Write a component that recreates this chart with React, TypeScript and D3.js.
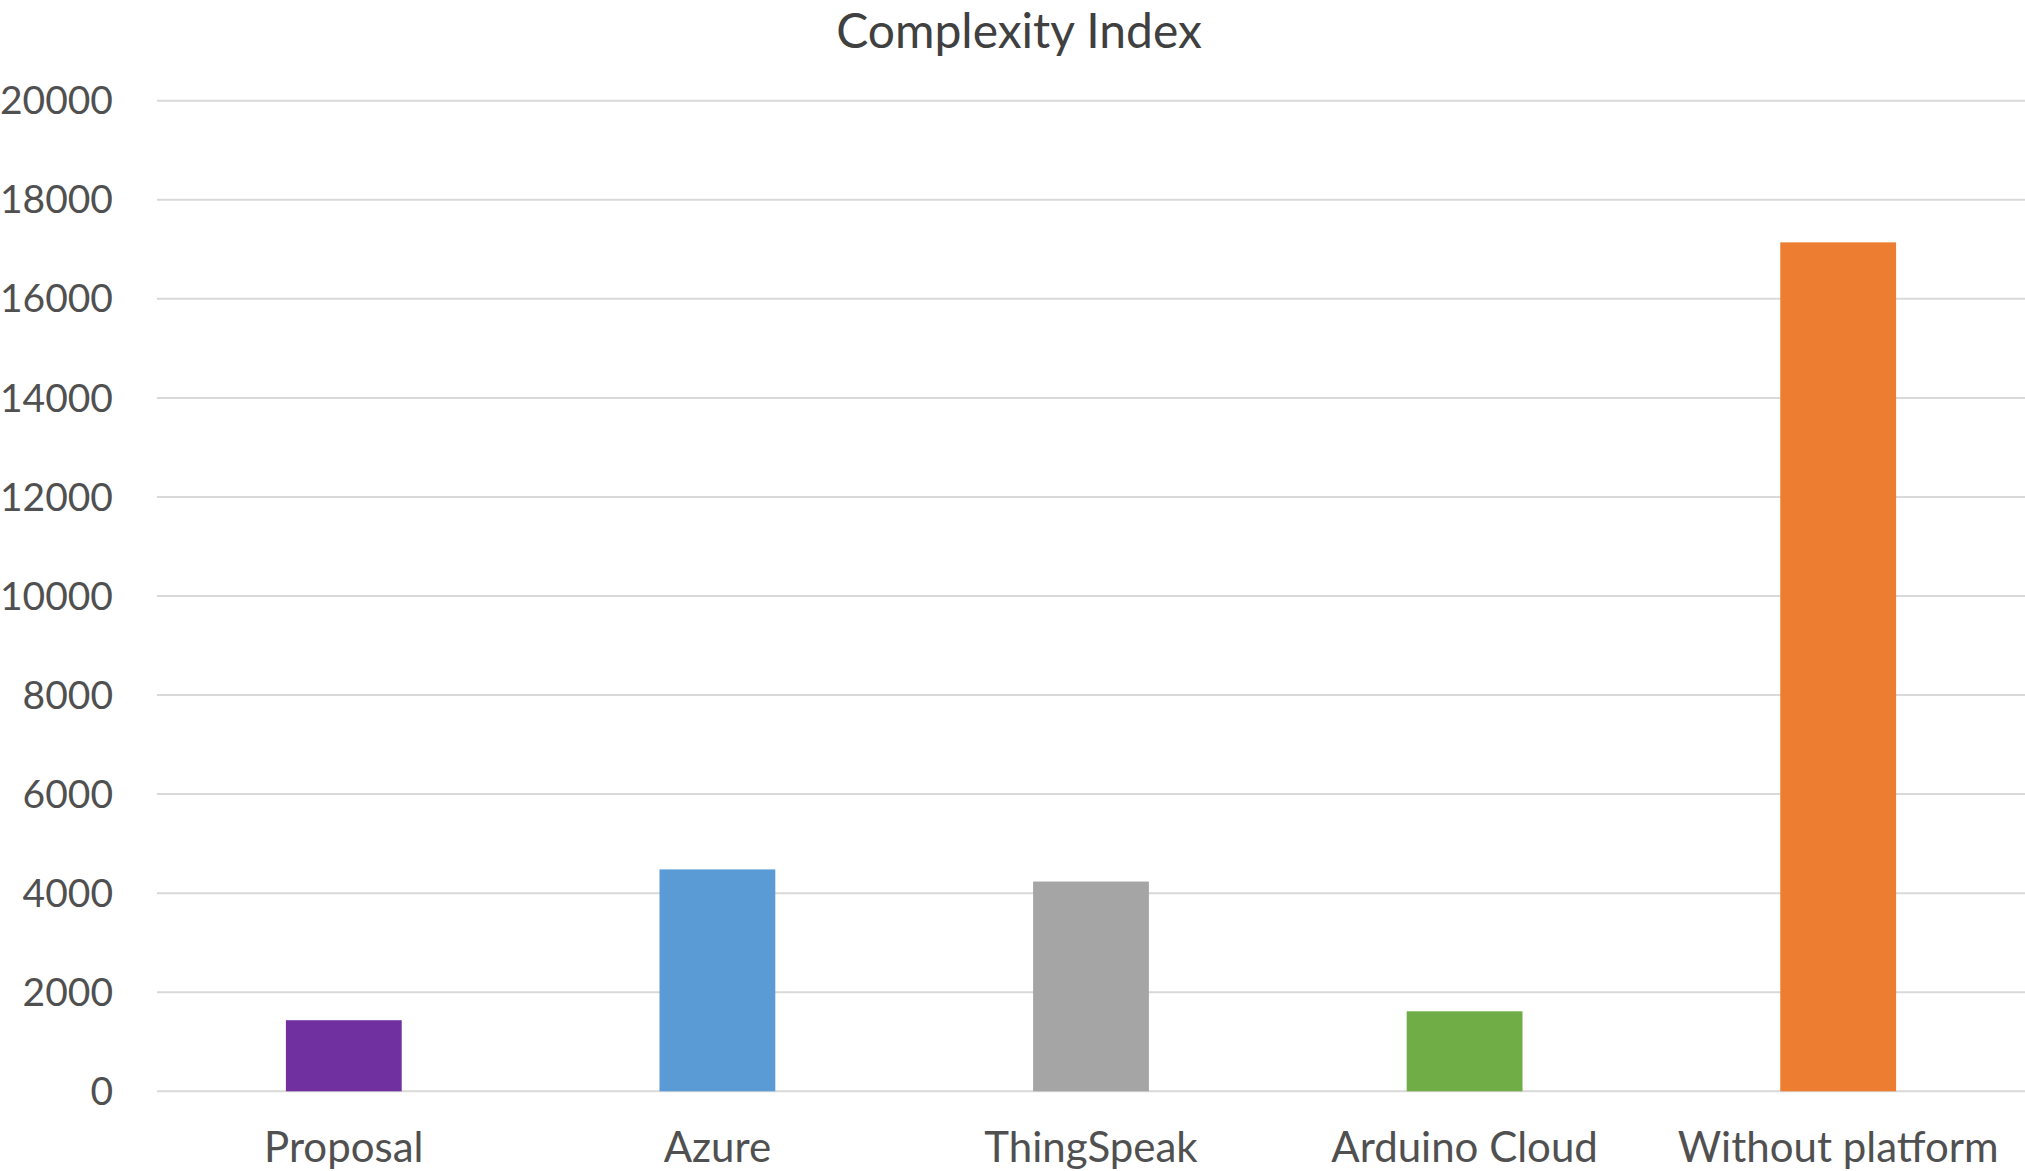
import React from "react";
import * as d3 from "d3";

const categories = ["Proposal", "Azure", "ThingSpeak", "Arduino Cloud", "Without platform"];
const values = [1435, 4480, 4235, 1615, 17140];
const colors = ["#7030A0", "#5B9BD5", "#A5A5A5", "#70AD47", "#ED7D31"];
const yTicks = [0, 2000, 4000, 6000, 8000, 10000, 12000, 14000, 16000, 18000, 20000];
const title = "Complexity Index";

const W = 2025;
const H = 1171;
const FONT = "Lato, 'Open Sans', sans-serif";

export default function App() {
  const left = 157;
  const right = W;
  const top = 100.7;
  const bottom = 1091.3;

  const x = d3.scaleBand<string>().domain(categories).range([left, right]).paddingInner(0.69).paddingOuter(0.345);
  const y = d3.scaleLinear().domain([0, 20000]).range([bottom, top]);

  return (
    <div style={{ position: "fixed", left: 0, top: 0 }}>
      <svg width={W} height={H} style={{ display: "block", background: "#fff" }}>
        <rect x={0} y={0} width={W} height={H} fill="#ffffff" />
        <text x={1019} y={48} textAnchor="middle" fontFamily={FONT} fontSize={48} fill="#404040">
          {title}
        </text>
        {yTicks.map((t) => (
          <g key={t}>
            <line x1={left} x2={right} y1={y(t)} y2={y(t)} stroke="#d9d9d9" strokeWidth={2} />
            <text x={113} y={y(t)} dy="0.35em" textAnchor="end" fontFamily={FONT} fontSize={39} fill="#505050">
              {t}
            </text>
          </g>
        ))}
        {categories.map((c, i) => (
          <g key={c}>
            <rect x={x(c)} y={y(values[i])} width={x.bandwidth()} height={y(0) - y(values[i])} fill={colors[i]} />
            <text x={(x(c) as number) + x.bandwidth() / 2} y={1162} textAnchor="middle" fontFamily={FONT} fontSize={42} fill="#505050">
              {c}
            </text>
          </g>
        ))}
      </svg>
    </div>
  );
}
